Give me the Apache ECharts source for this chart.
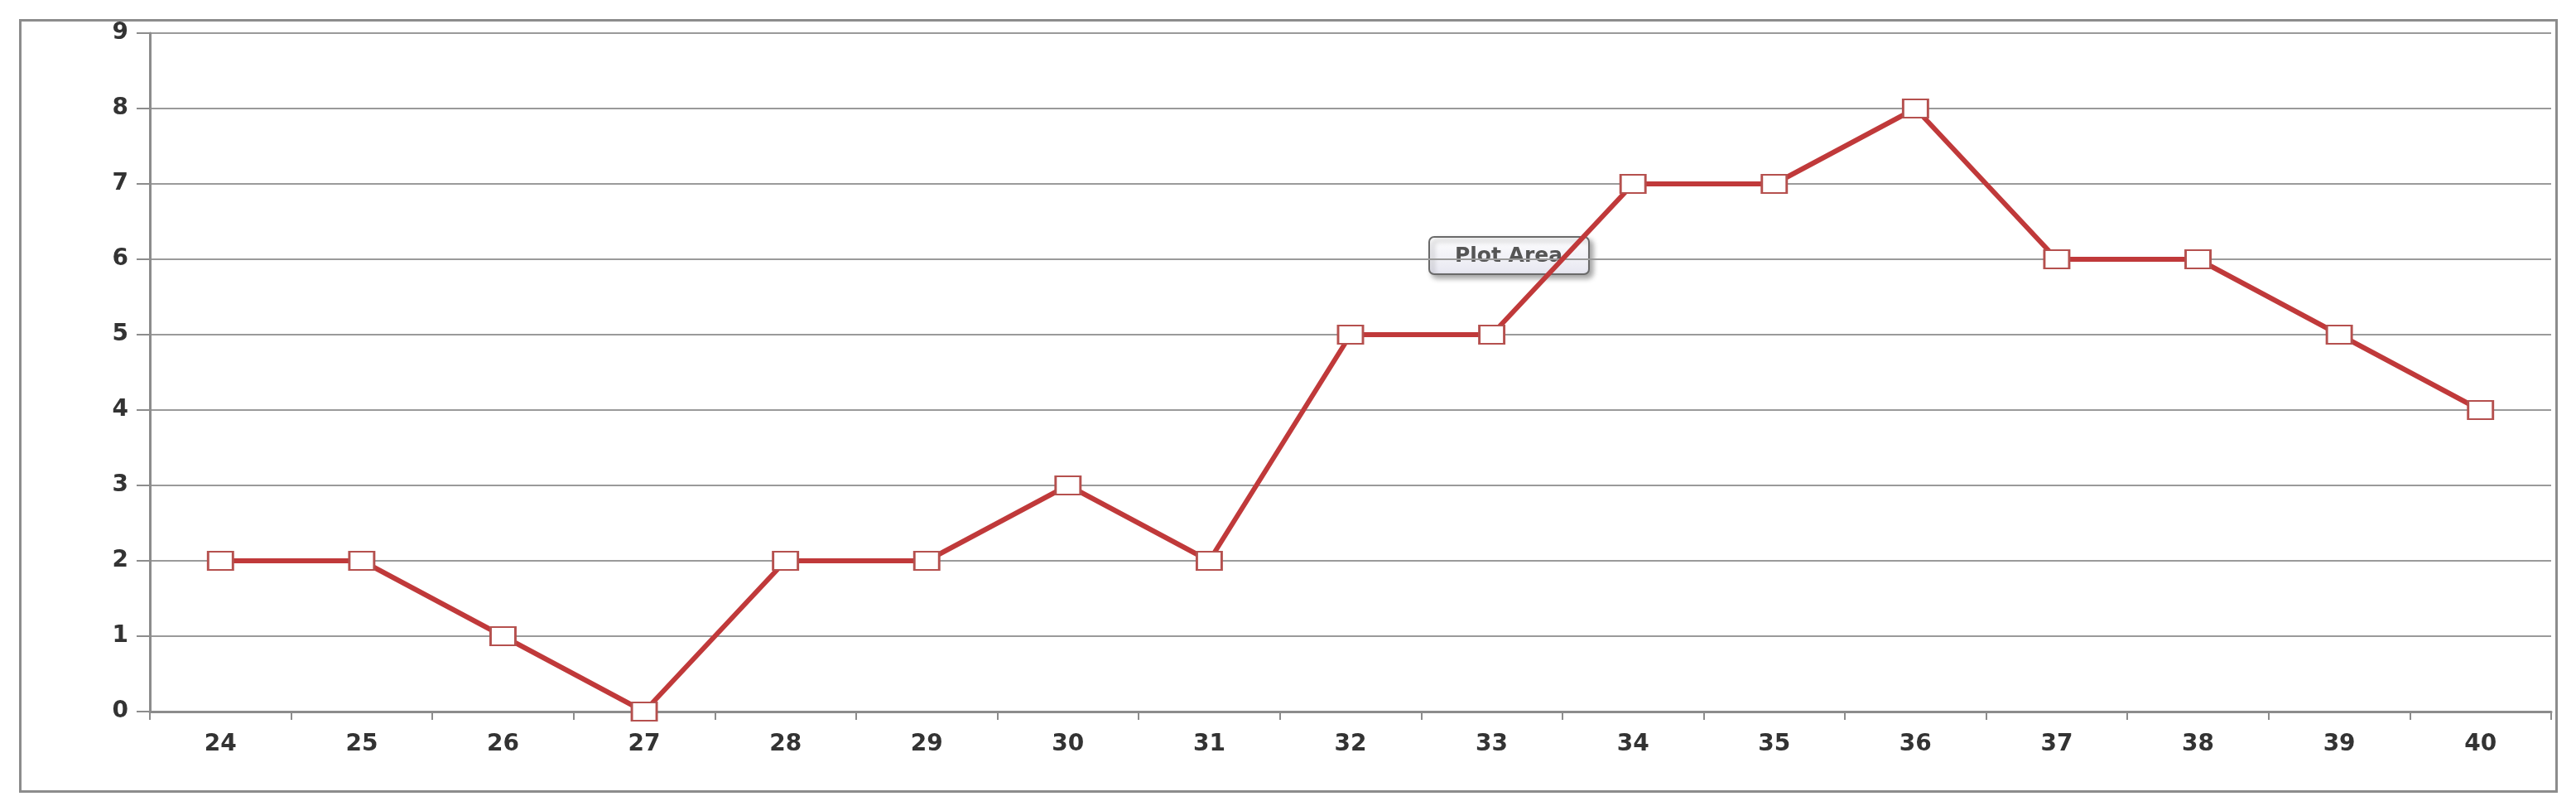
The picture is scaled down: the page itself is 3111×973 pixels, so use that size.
<!DOCTYPE html>
<html>
<head>
<meta charset="utf-8">
<script src="https://cdn.jsdelivr.net/npm/echarts@6/dist/echarts.min.js"></script>
<style>
html,body{margin:0;padding:0;background:#fff;}
#chart{width:3111px;height:973px;}
</style>
</head>
<body>
<div id="chart"></div>
<script>
const categories = ['24','25','26','27','28','29','30','31','32','33','34','35','36','37','38','39','40'];
const values = [2,2,1,0,2,2,3,2,5,5,7,7,8,6,6,5,4];
const yTicks = [0,1,2,3,4,5,6,7,8,9];
const calloutText = 'Plot Area';

const chart = echarts.init(document.getElementById('chart'));
const labelFont = {fontFamily:'DejaVu Sans', fontSize:28, color:'#333', fontWeight:'bold'};
chart.setOption({
  animation:false,
  backgroundColor:'#fff',
  grid:{left:181, right:30, top:40, bottom:114},
  xAxis:{
    type:'category',
    data:categories,
    boundaryGap:true,
    axisLine:{show:true, lineStyle:{color:'#8c8c8c', width:3}},
    axisTick:{show:true, length:10, lineStyle:{color:'#8c8c8c', width:2}},
    axisLabel:Object.assign({margin:26}, labelFont),
    splitLine:{show:false}
  },
  yAxis:{
    type:'value',
    min:yTicks[0], max:yTicks[yTicks.length-1], interval:1,
    axisLine:{show:true, lineStyle:{color:'#8c8c8c', width:3}},
    axisTick:{show:true, length:16, lineStyle:{color:'#8c8c8c', width:2}},
    axisLabel:Object.assign({margin:26}, labelFont),
    splitLine:{show:true, lineStyle:{color:'#9a9a9a', width:2}}
  },
  series:[{
    type:'line',
    data:values,
    lineStyle:{color:'#c0393a', width:6},
    symbol:'rect',
    symbolSize:[30,22],
    showAllSymbol:true,
    itemStyle:{color:'#ffffff', borderColor:'#b5504e', borderWidth:2.5},
    z:3
  }],
  graphic:[
    {type:'rect', left:22, top:22, shape:{width:3063, height:931}, style:{fill:null, stroke:'#8c8c8c', lineWidth:3}, silent:true, z:0},
    {type:'group', left:1725, top:285, z:10, children:[
      {type:'rect', shape:{x:0, y:0, width:193, height:45, r:6},
        style:{fill:new echarts.graphic.LinearGradient(0,0,0,1,[{offset:0,color:'#ffffff'},{offset:1,color:'#e6e6f0'}]),
          stroke:'#6a6a6a', lineWidth:2, shadowBlur:6, shadowOffsetX:4, shadowOffsetY:4, shadowColor:'rgba(0,0,0,0.35)'}},
      {type:'text', style:{x:96, y:23, text:calloutText, fill:'#555', font:'bold 25px "DejaVu Sans"', align:'center', verticalAlign:'middle'}}
    ]}
  ]
});
</script>
</body>
</html>
